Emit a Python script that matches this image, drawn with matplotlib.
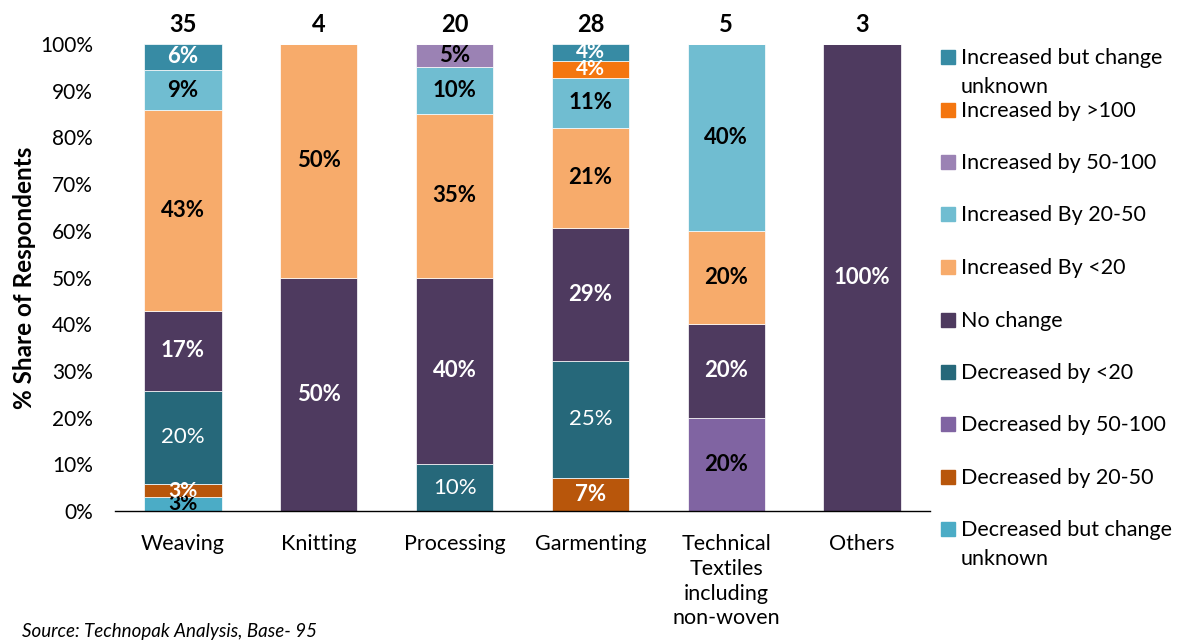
import matplotlib
matplotlib.use("Agg")
import matplotlib.pyplot as plt
from matplotlib.patches import Rectangle
import numpy as np

plt.rcParams['font.family'] = ['Lato', 'DejaVu Sans']

categories = ["Weaving", "Knitting", "Processing", "Garmenting",
              "Technical\nTextiles\nincluding\nnon-woven", "Others"]
totals = [35, 4, 20, 28, 5, 3]

# series in stacking order (bottom to top), values in % of respondents
series_names = ["Decreased but change\nunknown", "Decreased by 20-50", "Decreased by 50-100",
                "Decreased by <20", "No change", "Increased By <20", "Increased By 20-50",
                "Increased by 50-100", "Increased by >100", "Increased but change\nunknown"]
dec_unknown = [2.9, 0, 0, 0, 0, 0]
dec_20_50 = [2.9, 0, 0, 7.1, 0, 0]
dec_50_100 = [0, 0, 0, 0, 20, 0]
dec_lt20 = [20.0, 0, 10, 25.0, 0, 0]
no_change = [17.1, 50, 40, 28.6, 20, 100]
inc_lt20 = [42.9, 50, 35, 21.4, 20, 0]
inc_20_50 = [8.6, 0, 10, 10.7, 40, 0]
inc_50_100 = [0, 0, 5, 0, 0, 0]
inc_gt100 = [0, 0, 0, 3.6, 0, 0]
inc_unknown = [5.7, 0, 0, 3.6, 0, 0]
series_values = [dec_unknown, dec_20_50, dec_50_100, dec_lt20, no_change,
                 inc_lt20, inc_20_50, inc_50_100, inc_gt100, inc_unknown]

colors = ["#4BACC6", "#B8560B", "#8064A2", "#26687A", "#4E3A5F",
          "#F7AB6B", "#70BDD1", "#9B82B4", "#F4760F", "#378BA4"]
label_colors = ["black", "white", "black", "white", "white",
                "black", "black", "black", "white", "white"]
label_weights = ["bold", "bold", "bold", "normal", "bold",
                 "bold", "bold", "bold", "bold", "bold"]

W, H = 1181, 642
fig = plt.figure(figsize=(W / 100, H / 100), dpi=100)
ax = fig.add_axes([115 / W, 1 - 511 / H, (930 - 115) / W, (511 - 44) / H])

x = np.arange(len(categories))
bottom = np.zeros(len(categories))
for name, vals, col, lc, lw in zip(series_names, series_values, colors, label_colors, label_weights):
    vals = np.array(vals, dtype=float)
    ax.bar(x, vals, width=0.57, bottom=bottom, color=col,
           edgecolor="white", linewidth=0.5)
    for xi, v, b in zip(x, vals, bottom):
        if v > 0:
            fs = 16 if v >= 5 else 15
            ax.text(xi, b + v / 2, f"{v:.0f}%", ha="center", va="center",
                    color=lc, fontweight=lw, fontsize=fs)
    bottom += vals

for xi, t, b in zip(x, totals, bottom):
    ax.text(xi, 101.8, str(t), ha="center", va="bottom", fontsize=17,
            fontweight="bold", color="black")

ax.set_xlim(-0.5, len(categories) - 0.5)
ax.set_ylim(0, 100)
ax.set_yticks(np.arange(0, 101, 10))
ax.set_yticklabels([f"{v}%" for v in range(0, 101, 10)], fontsize=15)
ax.set_xticks(x)
ax.set_xticklabels(categories, fontsize=15.5, linespacing=1.3)
ax.tick_params(axis="y", length=0, pad=16)
ax.tick_params(axis="x", length=0, pad=16.5)
for s in ["top", "right", "left"]:
    ax.spines[s].set_visible(False)
ax.spines["bottom"].set_color("black")
ax.spines["bottom"].set_linewidth(1.0)
ax.set_ylabel("% Share of Respondents", fontsize=17.5, fontweight="bold", labelpad=2.5)

# legend (top to bottom = reverse of stacking order)
y_pos = [57, 110, 162, 214, 267, 320, 372, 424, 477, 529]
for name, col, yp in zip(series_names[::-1], colors[::-1], y_pos):
    fig.patches.append(Rectangle((941 / W, 1 - (yp + 7) / H), 14 / W, 14 / H,
                                 transform=fig.transFigure, color=col, figure=fig))
    for i, line in enumerate(name.split("\n")):
        fig.text(961 / W, 1 - (yp + 1 + 29 * i) / H, line, ha="left", va="center",
                 fontsize=15.5)

fig.text(22 / W, 1 - 631 / H, "Source: Technopak Analysis, Base- 95",
         fontsize=13.5, fontstyle="italic", va="center", ha="left")

fig.savefig("out.png", dpi=100)
